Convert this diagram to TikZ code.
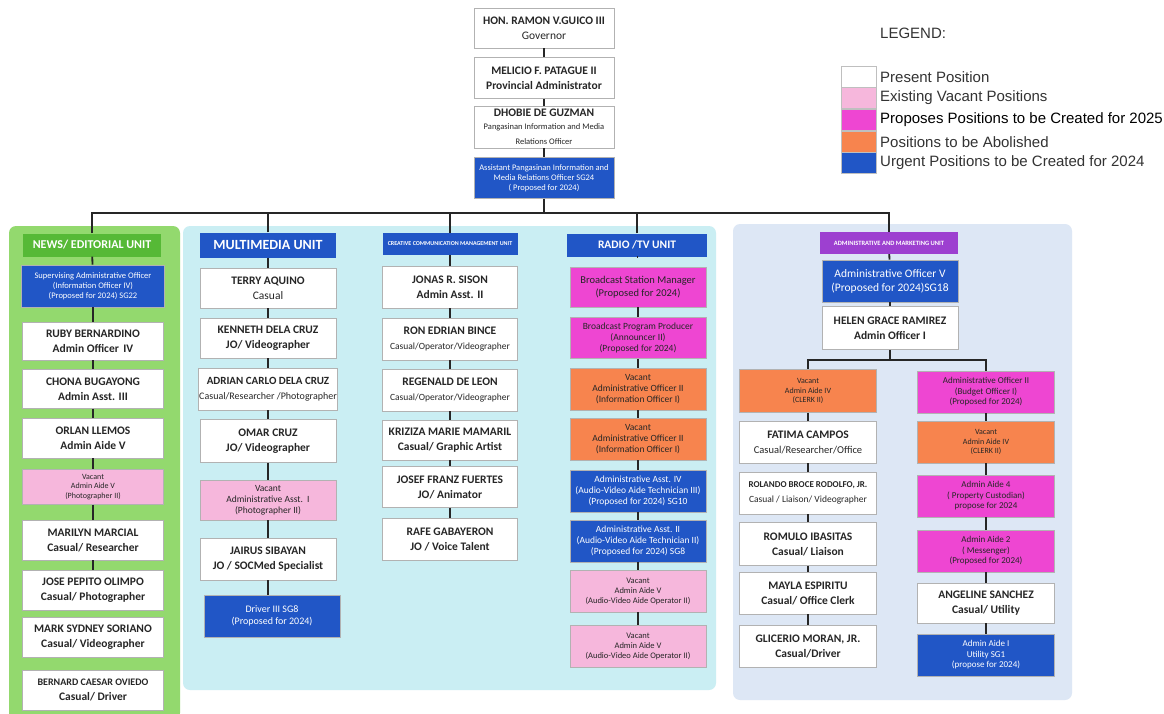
\documentclass[tikz,border=0pt]{standalone}
\usepackage{fontspec}
\setmainfont{Carlito}
\newfontfamily\legendfont{Liberation Sans}
\usetikzlibrary{calc}
\definecolor{vacpink}{HTML}{F6B7DC}
\definecolor{propmag}{HTML}{EE46D2}
\definecolor{aborange}{HTML}{F7844E}
\definecolor{urgblue}{HTML}{2156C6}
\definecolor{newsbg}{HTML}{93D96E}
\definecolor{newshd}{HTML}{56B936}
\definecolor{cyanbg}{HTML}{CAEEF3}
\definecolor{adminbg}{HTML}{DDE7F5}
\definecolor{adminhd}{HTML}{9D40D0}
\tikzset{
  box/.style={draw=black!30, line width=0.6pt, minimum width=136pt, minimum height=41pt,
    inner sep=1pt, align=center, text=black!85, font=\fontsize{11.5}{15}\selectfont},
  pres/.style={box, fill=white},
  vac/.style={box, fill=vacpink, font=\fontsize{9}{10.5}\selectfont},
  prop/.style={box, fill=propmag, font=\fontsize{9}{10.5}\selectfont},
  abol/.style={box, fill=aborange, font=\fontsize{9}{10.5}\selectfont},
  urg/.style={box, fill=urgblue, text=white, font=\fontsize{9}{10.5}\selectfont},
  radiotxt/.style={font=\fontsize{9.5}{11}\selectfont},
  unithead/.style={minimum height=23pt, minimum width=136pt, inner sep=1pt, text=white,
    font=\fontsize{12}{13}\selectfont\bfseries},
  conn/.style={line width=1.8pt, black!85},
  panel/.style={rounded corners=7pt},
  swatch/.style={draw=black!25, minimum width=35pt, minimum height=21pt, inner sep=0pt},
  lgtext/.style={anchor=west, inner sep=0pt, text=black!80, font=\legendfont\fontsize{15}{17}\selectfont}
}
\newcommand{\rolesmall}{\fontsize{9.5}{12}\selectfont}
\begin{document}
\begin{tikzpicture}[x=1pt,y=-1pt]
\useasboundingbox[fill=white] (0,0) rectangle (1164,714);

% unit panels
\fill[newsbg, panel] (9,226) rectangle (180,720);
\fill[cyanbg, panel] (183,226) rectangle (716,690);
\fill[adminbg, panel] (733,224) rectangle (1072,700);

% top of the chart
\node[pres] (gov) at (544,28) [minimum width=140pt, minimum height=40pt] {\textbf{HON. RAMON V.GUICO III}\\Governor};
\node[pres] (padm) at (544,78) [minimum width=140pt, minimum height=41pt] {\textbf{MELICIO F. PATAGUE II}\\\textbf{Provincial Administrator}};
\node[pres] (pimro) at (544,127) [minimum width=140pt, minimum height=42pt] {\textbf{DHOBIE DE GUZMAN}\\[-2pt]{\fontsize{8.5}{10}\selectfont Pangasinan Information and Media}\\{\fontsize{8.5}{10}\selectfont Relations Officer}};
\node[urg] (asst) at (544,178) [minimum width=140pt, minimum height=41pt, font=\fontsize{8.5}{10}\selectfont] {Assistant Pangasinan Information and\\Media Relations Officer SG24\\( Proposed for 2024)};
\coordinate (bus) at (544,213);

% news / editorial unit
\node[unithead, fill=newshd] (newshead) at (92,245) [minimum width=138pt] {NEWS/ EDITORIAL UNIT};
\node[urg] (news1) at (93,286) [minimum width=143pt, minimum height=42pt, font=\fontsize{8.5}{10}\selectfont] {Supervising Administrative Officer\\(Information Officer IV)\\(Proposed for 2024) SG22};
\node[pres] (news2) at (93,341) [minimum width=141pt, minimum height=38pt] {\textbf{RUBY BERNARDINO}\\\textbf{Admin Officer\, IV}};
\node[pres] (news3) at (93,389) [minimum width=141pt, minimum height=39pt] {\textbf{CHONA BUGAYONG}\\\textbf{Admin Asst. III}};
\node[pres] (news4) at (93,438) [minimum width=141pt, minimum height=40pt] {\textbf{ORLAN LLEMOS}\\\textbf{Admin Aide V}};
\node[vac] (news5) at (93,487) [minimum width=141pt, minimum height=35pt, font=\fontsize{8}{9.5}\selectfont] {Vacant\\Admin Aide V\\(Photographer II)};
\node[pres] (news6) at (93,540) [minimum width=141pt, minimum height=40pt] {\textbf{MARILYN MARCIAL}\\\textbf{Casual/ Researcher}};
\node[pres] (news7) at (93,590) [minimum width=141pt, minimum height=40pt] {\textbf{JOSE PEPITO OLIMPO}\\\textbf{Casual/ Photographer}};
\node[pres] (news8) at (93,637) [minimum width=141pt, minimum height=40pt] {\textbf{MARK SYDNEY SORIANO}\\\textbf{Casual/ Videographer}};
\node[pres] (news9) at (93,690) [minimum width=141pt, minimum height=40pt] {{\fontsize{10}{12}\selectfont\textbf{BERNARD CAESAR OVIEDO}}\\\textbf{Casual/ Driver}};

% multimedia unit
\node[unithead, fill=urgblue] (mmhead) at (268,245) [minimum height=25pt, font=\fontsize{14}{15}\selectfont\bfseries] {MULTIMEDIA UNIT};
\node[pres] (mm1) at (268,288) [minimum height=40pt] {\textbf{TERRY AQUINO}\\Casual};
\node[pres] (mm2) at (268,338) [minimum height=40pt] {\textbf{KENNETH DELA CRUZ}\\\textbf{JO/ Videographer}};
\node[pres] (mm3) at (268,389) [minimum height=42pt] {{\fontsize{11}{13}\selectfont\textbf{ADRIAN CARLO DELA CRUZ}}\\{\fontsize{10}{12}\selectfont Casual/Researcher /Photographer}};
\node[pres] (mm4) at (268,441) [minimum height=43pt] {\textbf{OMAR CRUZ}\\\textbf{JO/ Videographer}};
\node[vac] (mm5) at (268,500) [minimum height=40pt, font=\fontsize{9.5}{11}\selectfont] {Vacant\\Administrative Asst.\ \ I\\(Photographer II)};
\node[pres] (mm6) at (268,559) [minimum height=42pt] {\textbf{JAIRUS SIBAYAN}\\\textbf{JO / SOCMed Specialist}};
\node[urg] (mm7) at (272,616) [minimum height=42pt, font=\fontsize{10}{12}\selectfont] {Driver III SG8\\(Proposed for 2024)};

% creative communication management unit
\node[unithead, fill=urgblue] (crhead) at (450,244) [minimum width=135pt, minimum height=22pt, font=\fontsize{6}{7}\selectfont\bfseries] {CREATIVE COMMUNICATION MANAGEMENT UNIT};
\node[pres] (cr1) at (450,287) [minimum width=135pt, minimum height=42pt] {\textbf{JONAS R. SISON}\\\textbf{Admin Asst. II}};
\node[pres] (cr2) at (450,339) [minimum width=135pt, minimum height=42pt] {\textbf{RON EDRIAN BINCE}\\{\rolesmall Casual/Operator/Videographer}};
\node[pres] (cr3) at (450,390) [minimum width=135pt, minimum height=42pt] {\textbf{REGENALD DE LEON}\\{\rolesmall Casual/Operator/Videographer}};
\node[pres] (cr4) at (450,440) [minimum width=135pt, minimum height=40pt] {\textbf{KRIZIZA MARIE MAMARIL}\\\textbf{Casual/ Graphic Artist}};
\node[pres] (cr5) at (450,487) [minimum width=135pt, minimum height=41pt] {\textbf{JOSEF FRANZ FUERTES}\\\textbf{JO/ Animator}};
\node[pres] (cr6) at (450,539) [minimum width=135pt, minimum height=42pt] {\textbf{RAFE GABAYERON}\\\textbf{JO / Voice Talent}};

% radio / tv unit
\node[unithead, fill=urgblue] (rthead) at (637,245) [minimum width=140pt, font=\fontsize{11.5}{13}\selectfont\bfseries] {RADIO /TV UNIT};
\node[prop] (rt1) at (638,287) [minimum height=40pt, font=\fontsize{10.5}{12.5}\selectfont] {Broadcast Station Manager\\(Proposed for 2024)};
\node[prop, radiotxt] (rt2) at (638,338) {Broadcast Program Producer\\(Announcer II)\\(Proposed for 2024)};
\node[abol, radiotxt] (rt3) at (638,389) [minimum height=42pt] {Vacant\\Administrative Officer II\\(Information Officer I)};
\node[abol, radiotxt] (rt4) at (638,439) [minimum height=42pt] {Vacant\\Administrative Officer II\\(Information Officer I)};
\node[urg, radiotxt] (rt5) at (638,491) [minimum height=42pt] {Administrative Asst. IV\\(Audio-Video Aide Technician III)\\(Proposed for 2024) SG10};
\node[urg, radiotxt] (rt6) at (638,541) [minimum height=42pt] {Administrative Asst. II\\(Audio-Video Aide Technician II)\\(Proposed for 2024) SG8};
\node[vac] (rt7) at (638,591) [minimum height=42pt, font=\fontsize{8.5}{10}\selectfont] {Vacant\\Admin Aide V\\(Audio-Video Aide Operator II)};
\node[vac] (rt8) at (638,646) [minimum height=42pt, font=\fontsize{8.5}{10}\selectfont] {Vacant\\Admin Aide V\\(Audio-Video Aide Operator II)};

% administrative and marketing unit
\node[unithead, fill=adminhd] (adhead) at (889,243) [minimum width=138pt, minimum height=22pt, font=\fontsize{6.5}{7.5}\selectfont\bfseries] {ADMINISTRATIVE AND MARKETING UNIT};
\node[urg] (ad1) at (890,281) [minimum height=42pt, font=\fontsize{11.5}{14}\selectfont] {Administrative Officer V\\(Proposed for 2024)SG18};
\node[pres] (ad2) at (890,328) [minimum height=43pt] {\textbf{HELEN GRACE RAMIREZ}\\\textbf{Admin Officer I}};
\coordinate (split) at (890,360);
\node[abol] (adl1) at (808,391) [minimum width=137pt, minimum height=43pt, font=\fontsize{8}{9.5}\selectfont] {Vacant\\Admin Aide IV\\(CLERK II)};
\node[pres] (adl2) at (808,442) [minimum width=137pt, minimum height=42pt] {\textbf{FATIMA CAMPOS}\\{\fontsize{10.5}{13}\selectfont Casual/Researcher/Office}};
\node[pres] (adl3) at (808,493) [minimum width=137pt, minimum height=42pt] {{\fontsize{9}{11}\selectfont\textbf{ROLANDO BROCE RODOLFO, JR.}}\\{\rolesmall Casual / Liaison/ Videographer}};
\node[pres] (adl4) at (808,544) [minimum width=137pt, minimum height=43pt] {\textbf{ROMULO IBASITAS}\\\textbf{Casual/ Liaison}};
\node[pres] (adl5) at (808,593) [minimum width=137pt, minimum height=42pt] {\textbf{MAYLA ESPIRITU}\\\textbf{Casual/ Office Clerk}};
\node[pres] (adl6) at (808,646) [minimum width=137pt, minimum height=42pt] {\textbf{GLICERIO MORAN, JR.}\\\textbf{Casual/Driver}};
\node[prop] (adr1) at (986,392) [minimum width=137pt, minimum height=42pt] {Administrative Officer II\\(Budget Officer I)\\(Proposed for 2024)};
\node[abol] (adr2) at (986,442) [minimum width=137pt, minimum height=42pt, font=\fontsize{8}{9.5}\selectfont] {Vacant\\Admin Aide IV\\(CLERK II)};
\node[prop] (adr3) at (986,496) [minimum width=137pt, minimum height=42pt] {Admin Aide 4\\( Property Custodian)\\propose for 2024};
\node[prop] (adr4) at (986,551) [minimum width=137pt, minimum height=42pt] {Admin Aide 2\\( Messenger)\\(Proposed for 2024)};
\node[pres] (adr5) at (986,603) [minimum width=137pt, minimum height=40pt] {\textbf{ANGELINE SANCHEZ}\\\textbf{Casual/ Utility}};
\node[urg] (adr6) at (986,655) [minimum width=137pt, minimum height=42pt] {Admin Aide I\\Utility SG1\\(propose for 2024)};

% connectors
\draw[conn] (gov) -- (padm);
\draw[conn] (padm) -- (pimro);
\draw[conn] (pimro) -- (asst);
\draw[conn] (asst) -- (bus);
\draw[conn] (newshead.north) |- (bus) -| (adhead.north);
\draw[conn] (mmhead.north) -- (mmhead.north |- bus);
\draw[conn] (crhead.north) -- (crhead.north |- bus);
\draw[conn] (rthead.north) -- (rthead.north |- bus);

\draw[conn] (newshead) -- (news1);
\draw[conn] (news1) -- (news2);
\draw[conn] (news2) -- (news3);
\draw[conn] (news3) -- (news4);
\draw[conn] (news4) -- (news5);
\draw[conn] (news5) -- (news6);
\draw[conn] (news6) -- (news7);

\draw[conn] (mmhead) -- (mm1);
\draw[conn] (mm1) -- (mm2);
\draw[conn] (mm2) -- (mm3);
\draw[conn] (mm3) -- (mm4);
\draw[conn] (mm4) -- (mm5);
\draw[conn] (mm5) -- (mm6);
\draw[conn] (mm6.south) -- (mm6.south |- mm7.north);

\draw[conn] (crhead) -- (cr1);
\draw[conn] (cr1) -- (cr2);
\draw[conn] (cr2) -- (cr3);
\draw[conn] (cr3) -- (cr4);
\draw[conn] (cr4) -- (cr5);
\draw[conn] (cr5) -- (cr6);

\draw[conn] (rthead.south) -- (rthead.south -| rt1.north);
\draw[conn] (rt1) -- (rt2);
\draw[conn] (rt2) -- (rt3);
\draw[conn] (rt3) -- (rt4);
\draw[conn] (rt4) -- (rt5);
\draw[conn] (rt5) -- (rt6);
\draw[conn] (rt6) -- (rt7);
\draw[conn] (rt7) -- (rt8);

\draw[conn] (adhead) -- (ad1);
\draw[conn] (ad1) -- (ad2);
\draw[conn] (ad2) -- (split);
\draw[conn] (adl1.north) |- (split) -| (adr1.north);
\draw[conn] (adl1) -- (adl2);
\draw[conn] (adl2) -- (adl3);
\draw[conn] (adl3) -- (adl4);
\draw[conn] (adl4) -- (adl5);
\draw[conn] (adl5) -- (adl6);
\draw[conn] (adr1) -- (adr2);
\draw[conn] (adr2) -- (adr3);
\draw[conn] (adr3) -- (adr4);
\draw[conn] (adr4) -- (adr5);
\draw[conn] (adr5) -- (adr6);

% legend
\node[lgtext] (lgtitle) at (880,33) {LEGEND:};
\node[swatch, fill=white] (lgbox1) at (859,77) {};
\node[swatch, fill=vacpink] (lgbox2) at (859,98) {};
\node[swatch, fill=propmag] (lgbox3) at (859,120) {};
\node[swatch, fill=aborange] (lgbox4) at (859,142) {};
\node[swatch, fill=urgblue] (lgbox5) at (859,163) {};
\node[lgtext] (lgtext1) at (880,77) {Present Position};
\node[lgtext] (lgtext2) at (880,98) {Existing Vacant Positions};
\node[lgtext, text=black] (lgtext3) at (880,120) {Proposes Positions to be Created for 2025};
\node[lgtext] (lgtext4) at (880,142) {Positions to be Abolished};
\node[lgtext] (lgtext5) at (880,163) {Urgent Positions to be Created for 2024};
\end{tikzpicture}
\end{document}
